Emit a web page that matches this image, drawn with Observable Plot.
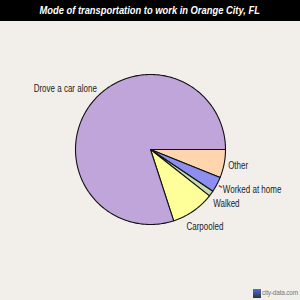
<!DOCTYPE html>
<html><head><meta charset="utf-8">
<script src="https://cdn.jsdelivr.net/npm/d3@7"></script>
<script src="https://cdn.jsdelivr.net/npm/@observablehq/plot@0.6"></script>
<style>
html,body{margin:0;padding:0;background:#F2EFEB;width:300px;height:300px;overflow:hidden;}
#title{height:21px;background:#000;color:#fff;font:italic bold 11px "Liberation Sans",Arial,sans-serif;text-align:center;line-height:21px;white-space:nowrap;}
#title span{display:inline-block;transform:scaleX(0.85);}
#chart{position:relative;height:279px;}
#wm{position:absolute;right:2px;top:289px;font:6.5px "Liberation Sans",Arial,sans-serif;letter-spacing:-0.2px;color:#777;white-space:nowrap;}
#wm i{display:inline-block;width:8px;height:9px;background:linear-gradient(#4a6fe0,#333);vertical-align:middle;margin-right:1px;}
</style></head><body>
<div id="title"><span>Mode of transportation to work in Orange City, FL</span></div>
<div id="chart"></div>
<div id="wm"><i></i>city-data.com</div>
<script>
const categories = ["Other", "Worked at home", "Walked", "Carpooled", "Drove a car alone"];
const shares = [6.1, 3.3, 1.2, 9.4, 80.0];
const colors = ["#FFD5AE", "#8E8EF0", "#C4DDB0", "#FFFF99", "#BFA5DA"];

// layout tweaks for label placement (pixels), not data
const labelLayout = {
  "Other": {anchor: "start", dx: 4, dy: 2},
  "Worked at home": {anchor: "start", dx: 6, dy: 5},
  "Walked": {anchor: "start", dx: 2, dy: 10},
  "Carpooled": {anchor: "start", dx: -7, dy: 16},
  "Drove a car alone": {anchor: "end", dx: 7, dy: -17}
};

const total = d3.sum(shares);
let acc = 0;
const slices = categories.map((c, i) => {
  const a0 = acc / total * 2 * Math.PI;
  acc += shares[i];
  const a1 = acc / total * 2 * Math.PI;
  return {cat: c, a0, a1, mid: (a0 + a1) / 2};
});

const pts = [];
for (const s of slices) {
  pts.push({cat: s.cat, x: 0, y: 0});
  const n = Math.max(2, Math.ceil((s.a1 - s.a0) / (Math.PI / 180)));
  for (let k = 0; k <= n; k++) {
    const a = s.a0 + (s.a1 - s.a0) * k / n;
    pts.push({cat: s.cat, x: Math.cos(a), y: Math.sin(a)});
  }
  pts.push({cat: s.cat, x: 0, y: 0});
}

const labels = slices.map(s => ({cat: s.cat, x: Math.cos(s.mid), y: Math.sin(s.mid)}));
const wah = slices.find(s => s.cat === "Worked at home");
const tick = [{x1: 1.03 * Math.cos(wah.mid), y1: 1.03 * Math.sin(wah.mid), x2: 1.08 * Math.cos(wah.mid), y2: 1.08 * Math.sin(wah.mid)}];

const H = 279, R = 75, CY = 128;
const marks = [
  Plot.line(pts, {x: "x", y: "y", z: "cat", fill: "cat", stroke: "#111", strokeWidth: 1.1, curve: "linear"}),
  Plot.link(tick, {x1: "x1", y1: "y1", x2: "x2", y2: "y2", stroke: "#e02020", strokeWidth: 1.2})
];
for (const l of labels) {
  const L = labelLayout[l.cat];
  marks.push(Plot.text([l], {x: "x", y: "y", text: "cat", textAnchor: L.anchor, dx: L.dx, dy: L.dy, fontSize: 10, fill: "#222", fontFamily: "Liberation Sans, Arial, sans-serif"}));
}

const chart = Plot.plot({
  width: 300, height: H,
  margin: 0,
  style: {background: "transparent", overflow: "visible"},
  x: {domain: [-150 / R, 150 / R], range: [0, 300], axis: null},
  y: {domain: [-CY / R, (H - CY) / R], range: [0, H], axis: null},
  color: {domain: categories, range: colors},
  marks
});
document.getElementById("chart").appendChild(chart);
chart.querySelectorAll('g[aria-label="text"] text').forEach(t => {
  const w = t.getComputedTextLength();
  t.setAttribute("textLength", (w * 0.8).toFixed(1));
  t.setAttribute("lengthAdjust", "spacingAndGlyphs");
});
</script>
</body></html>
